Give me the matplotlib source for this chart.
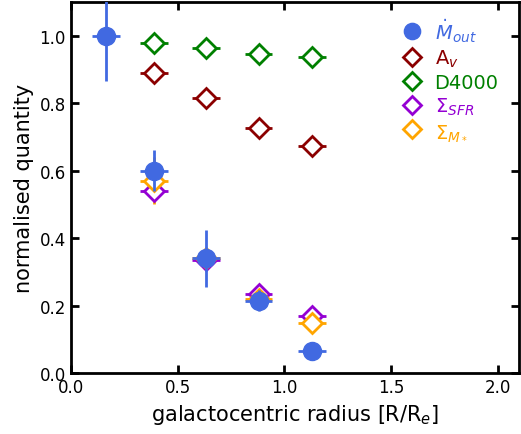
import numpy as np
import matplotlib.pyplot as plt

# radial bins [R/Re]
r_bins = [0.165, 0.39, 0.635, 0.88, 1.13]
r_err = 0.065

mdot = [1.0, 0.60, 0.34, 0.215, 0.065]
mdot_err = [0.135, 0.06, 0.085, 0.03, 0.0]

r_other = r_bins[1:]
av = [0.89, 0.815, 0.727, 0.672]
d4000 = [0.98, 0.963, 0.945, 0.938]
sfr = [0.54, 0.335, 0.235, 0.168]
sfr_err = [0.02, 0.01, 0.03, 0.015]
mstar = [0.57, 0.34, 0.22, 0.15]
mstar_err = [0.07, 0.01, 0.01, 0.01]

fig = plt.figure(figsize=(5.21, 4.35), dpi=100)
ax = fig.add_axes([0.136, 0.140, 0.860, 0.853])

dia = dict(marker='D', ms=10, mfc='white', mew=2, ls='none', elinewidth=2, capsize=0)

ax.errorbar(r_other, av, xerr=r_err, color='darkred', label=r'A$_v$', **dia)
ax.errorbar(r_other, d4000, xerr=r_err, color='green', label='D4000', **dia)
ax.errorbar(r_other, sfr, xerr=r_err, yerr=sfr_err, color='darkviolet', label=r'$\Sigma_{SFR}$', **dia)
ax.errorbar(r_other, mstar, xerr=r_err, yerr=mstar_err, color='orange', label=r'$\Sigma_{M_*}$', **dia)
ax.errorbar(r_bins, mdot, xerr=r_err, yerr=mdot_err, color='royalblue', marker='o', ms=13,
            ls='none', elinewidth=2, capsize=0, label=r'$\dot{M}_{out}$', zorder=5)

ax.set_xlim(0, 2.1)
ax.set_ylim(0, 1.1)
ax.set_xticks([0.0, 0.5, 1.0, 1.5, 2.0])
ax.set_yticks([0.0, 0.2, 0.4, 0.6, 0.8, 1.0])
ax.tick_params(direction='in', top=True, right=True, length=6, width=2, labelsize=12)
for s in ax.spines.values():
    s.set_linewidth(2)
ax.set_xlabel(r'galactocentric radius [R/R$_e$]', fontsize=15)
ax.set_ylabel('normalised quantity', fontsize=15)

h, l = ax.get_legend_handles_labels()
order = [4, 0, 1, 2, 3]
h = [h[i][0] for i in order]
l = [l[i] for i in order]
cols = ['royalblue', 'darkred', 'green', 'darkviolet', 'orange']
leg = ax.legend(h, l, loc='upper right', bbox_to_anchor=(0.985, 1.0), frameon=False,
                fontsize=14, handlelength=1, markerscale=0.9,
                handletextpad=0.65, labelspacing=0.2, borderaxespad=0.3)
for t, c in zip(leg.get_texts(), cols):
    t.set_color(c)

fig.savefig('out.png', dpi=100)
